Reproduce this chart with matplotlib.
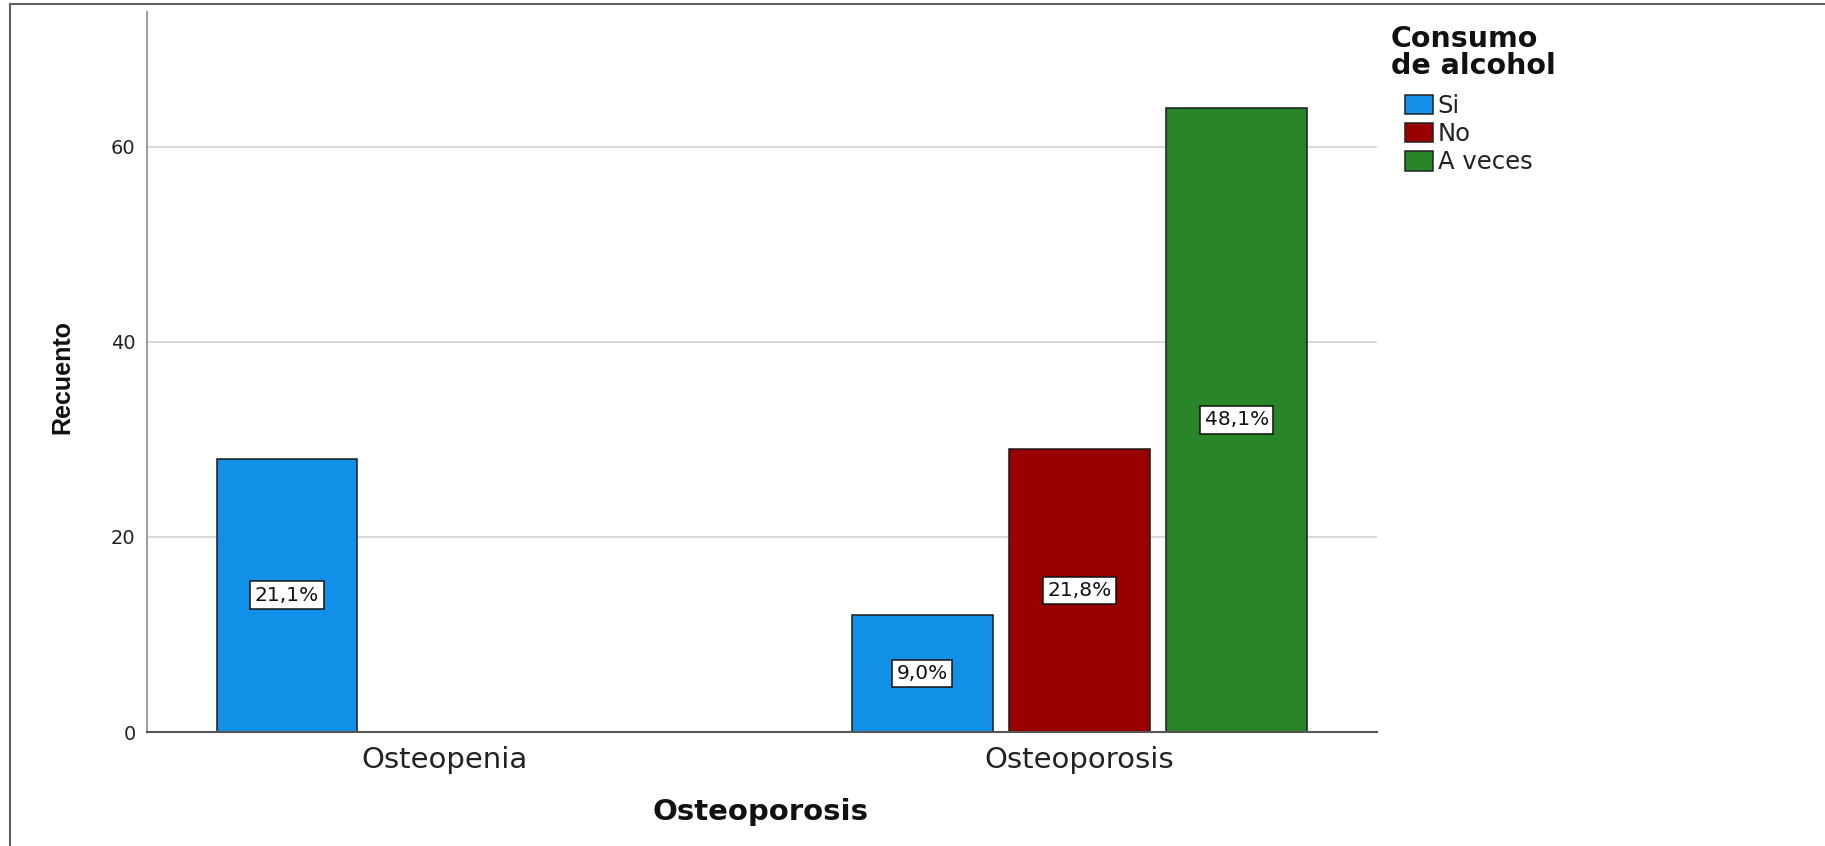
import matplotlib
matplotlib.use("Agg")
import matplotlib.pyplot as plt
from matplotlib import font_manager as fm
from matplotlib.patches import Patch
from matplotlib.lines import Line2D
import numpy as np

# ---------------- data ----------------
categories = ["Osteopenia", "Osteoporosis"]
series_names = ["Si", "No", "A veces"]
si_counts = [28, 12]
no_counts = [0, 29]
aveces_counts = [0, 64]
si_labels = ["21,1%", "9,0%"]
no_labels = ["", "21,8%"]
aveces_labels = ["", "48,1%"]
yticks = [0, 20, 40, 60]

series_counts = [si_counts, no_counts, aveces_counts]
series_labels = [si_labels, no_labels, aveces_labels]
colors = ["#128FE6", "#990000", "#29852A"]

# ---------------- fonts ----------------
names = {f.name for f in fm.fontManager.ttflist}
if "Liberation Sans Narrow" in names:
    ylab_family, ylab_size = "Liberation Sans Narrow", 21
else:
    ylab_family, ylab_size = "Liberation Sans", 18

W, H = 1825, 846
fig = plt.figure(figsize=(W / 100, H / 100), dpi=100)
fig.patch.set_facecolor("white")

ax_left, ax_right, ax_top, ax_bot = 146.7, 1377, 12, 732
ax = fig.add_axes([ax_left / W, 1 - ax_bot / H, (ax_right - ax_left) / W, (ax_bot - ax_top) / H])

x = np.arange(len(categories))
step = 0.2473
width = 0.2216
for i, (cnts, labs, col) in enumerate(zip(series_counts, series_labels, colors)):
    for j, (c, lab) in enumerate(zip(cnts, labs)):
        if c <= 0:
            continue
        xpos = x[j] + (i - 1) * step
        ax.bar(xpos, c, width=width, color=col, edgecolor="#1a1a1a", linewidth=1.1, zorder=3)
        ax.text(xpos, c / 2, lab, ha="center", va="center", fontsize=14.5,
                family="DejaVu Sans", color="#111111", zorder=5,
                bbox=dict(boxstyle="square,pad=0.22", fc="white", ec="#111111", lw=1.1))

ax.set_xlim(-0.468, 1.468)
ax.set_ylim(0, 73.8)
ax.set_yticks(yticks)
ax.set_yticklabels([str(v) for v in yticks], fontsize=14, family="DejaVu Sans", color="#222222")
ax.set_xticks(x)
ax.set_xticklabels(categories, fontsize=21, family="DejaVu Sans", color="#222222")
ax.tick_params(axis="y", length=0, pad=8)
ax.tick_params(axis="x", length=0, pad=10)

for yv in yticks[1:]:
    ax.axhline(yv, color="#d2d2d2", lw=1.2, zorder=1)

for s in ["top", "right"]:
    ax.spines[s].set_visible(False)
ax.spines["left"].set_color("#a0a0a0")
ax.spines["left"].set_linewidth(1.5)
ax.spines["bottom"].set_color("#555555")
ax.spines["bottom"].set_linewidth(1.5)
ax.spines["bottom"].set_zorder(4)

ax.set_ylabel("Recuento", fontsize=ylab_size, family=ylab_family, fontweight="bold", color="#111111")
ax.yaxis.label.set_va("center")
ax.yaxis.set_label_coords((62 - ax_left) / (ax_right - ax_left), (ax_bot - 377) / (ax_bot - ax_top))

ax.set_xlabel("Osteoporosis", fontsize=21, family="DejaVu Sans", fontweight="bold", color="#111111")
ax.xaxis.label.set_va("center")
ax.xaxis.set_label_coords((761 - ax_left) / (ax_right - ax_left), (ax_bot - 812) / (ax_bot - ax_top))

# legend
fig.text(1391 / W, 1 - 25 / H, "Consumo\nde alcohol", ha="left", va="top",
         fontsize=20.5, family="DejaVu Sans", fontweight="bold", color="#111111", linespacing=0.95)
handles = [Patch(facecolor=c, edgecolor="#222222", linewidth=1.1) for c in colors]
leg = fig.legend(handles, series_names, loc="upper left",
                 bbox_to_anchor=(1405 / W, 1 - 94 / H), frameon=False,
                 borderpad=0, borderaxespad=0, handlelength=1.15, handleheight=0.85,
                 handletextpad=0.2, labelspacing=0.17,
                 prop=dict(family="DejaVu Sans", size=17.5))
for t in leg.get_texts():
    t.set_color("#222222")

# outer frame (left and top)
fig.add_artist(Line2D([9.5 / W, 9.5 / W], [0, 1 - 4.5 / H], color="#606060", lw=1.5,
                      transform=fig.transFigure))
fig.add_artist(Line2D([9.5 / W, 1], [1 - 4.5 / H, 1 - 4.5 / H], color="#606060", lw=1.5,
                      transform=fig.transFigure))

fig.savefig("out.png", dpi=100, facecolor="white")
